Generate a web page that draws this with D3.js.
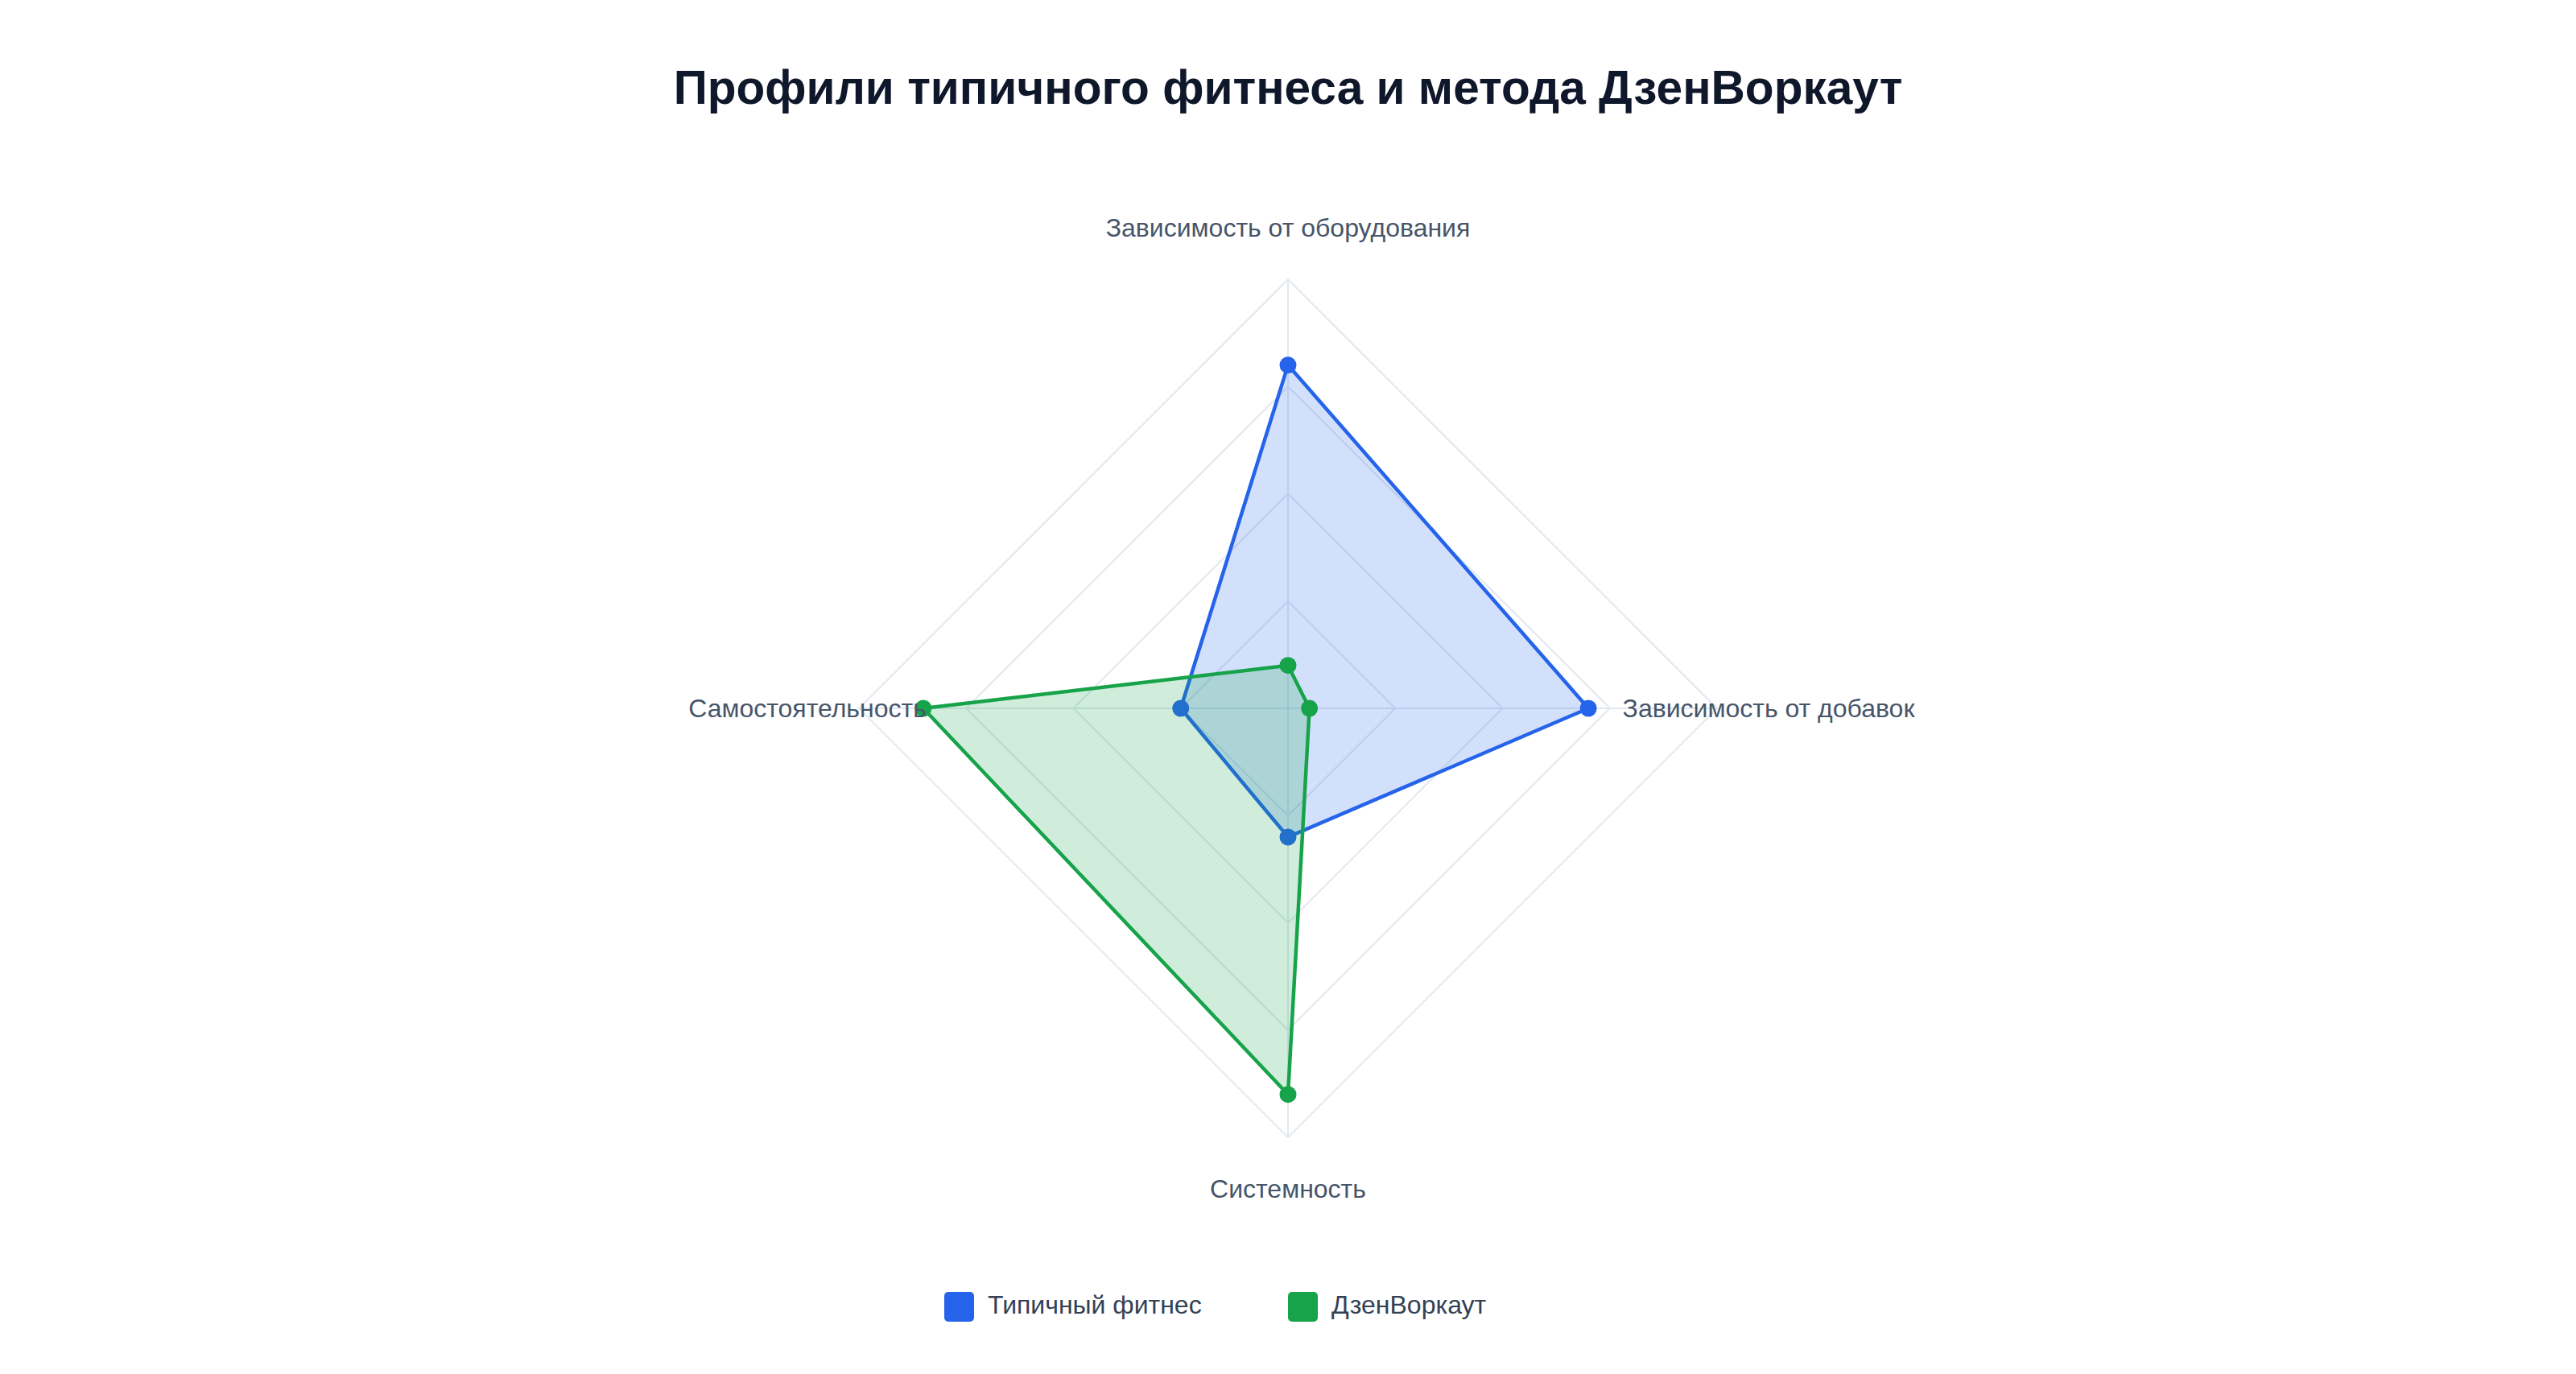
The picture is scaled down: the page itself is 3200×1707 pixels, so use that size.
<!DOCTYPE html>
<html>
<head>
<meta charset="utf-8">
<script src="https://cdn.jsdelivr.net/npm/d3@7/dist/d3.min.js"></script>
<style>
  html, body { margin: 0; padding: 0; background: #ffffff; }
  svg { display: block; }
  text { font-family: "Liberation Sans", Arial, Helvetica, sans-serif; }
</style>
</head>
<body>
<svg id="chart" width="3200" height="1707"></svg>
<script>
const title = "Профили типичного фитнеса и метода ДзенВоркаут";
const axes = ["Зависимость от оборудования", "Зависимость от добавок", "Системность", "Самостоятельность"];
const seriesNames = ["Типичный фитнес", "ДзенВоркаут"];
const typicalValues = [80, 70, 30, 25];
const zenValues = [10, 5, 90, 85];
const ringLevels = [25, 50, 75, 100];
const maxValue = 100;
const colors = ["#2563eb", "#16a34a"];

const series = [
  { name: seriesNames[0], values: typicalValues, color: colors[0] },
  { name: seriesNames[1], values: zenValues, color: colors[1] }
];

const W = 3200, H = 1707;
const cx = 1600, cy = 880, R = 533;
const labelR = 597;

const svg = d3.select("#chart");
svg.append("rect").attr("width", W).attr("height", H).attr("fill", "#ffffff");

svg.append("text")
  .attr("x", cx).attr("y", 129)
  .attr("text-anchor", "middle")
  .attr("font-size", 58.6).attr("font-weight", 700)
  .attr("fill", "#0f172a")
  .text(title);

const r = d3.scaleLinear().domain([0, maxValue]).range([0, R]);
const angle = d3.scalePoint().domain(axes).range([0, 2 * Math.PI * (axes.length - 1) / axes.length]);

const g = svg.append("g").attr("transform", `translate(${cx},${cy})`);

const pt = (a, v) => {
  const t = angle(a) - Math.PI / 2;
  return [Math.cos(t) * r(v), Math.sin(t) * r(v)];
};

// grid rings
const gridG = g.append("g");
ringLevels.forEach(lv => {
  gridG.append("polygon")
    .attr("points", axes.map(a => pt(a, lv).join(",")).join(" "))
    .attr("fill", "none")
    .attr("stroke", "#e2e8f0")
    .attr("stroke-width", 2);
});
// spokes
axes.forEach(a => {
  const [x, y] = pt(a, maxValue);
  gridG.append("line")
    .attr("x1", 0).attr("y1", 0).attr("x2", x).attr("y2", y)
    .attr("stroke", "#e2e8f0").attr("stroke-width", 2);
});

// series
const line = d3.lineRadial()
  .angle((d, i) => angle(axes[i]))
  .radius(d => r(d))
  .curve(d3.curveLinearClosed);

series.forEach(s => {
  const sg = g.append("g");
  sg.append("path")
    .attr("d", line(s.values))
    .attr("fill", s.color).attr("fill-opacity", 0.2)
    .attr("stroke", s.color).attr("stroke-width", 4.5)
    .attr("stroke-linejoin", "round");
  sg.selectAll("circle").data(s.values).join("circle")
    .attr("cx", (d, i) => pt(axes[i], d)[0])
    .attr("cy", (d, i) => pt(axes[i], d)[1])
    .attr("r", 10.5)
    .attr("fill", s.color);
});

// axis labels
axes.forEach(a => {
  const t = angle(a) - Math.PI / 2;
  g.append("text")
    .attr("x", Math.cos(t) * labelR)
    .attr("y", Math.sin(t) * labelR)
    .attr("text-anchor", "middle")
    .attr("dominant-baseline", "central")
    .attr("font-size", 32)
    .attr("fill", "#475569")
    .text(a);
});

// legend
const legendX = [1173, 1600];
const legendY = 1605;
series.forEach((s, i) => {
  svg.append("rect")
    .attr("x", legendX[i]).attr("y", legendY)
    .attr("width", 37).attr("height", 37)
    .attr("rx", 5).attr("ry", 5)
    .attr("fill", s.color);
  svg.append("text")
    .attr("x", legendX[i] + 54).attr("y", legendY + 16)
    .attr("dominant-baseline", "central")
    .attr("font-size", 32)
    .attr("fill", "#334155")
    .text(s.name);
});
</script>
</body>
</html>
